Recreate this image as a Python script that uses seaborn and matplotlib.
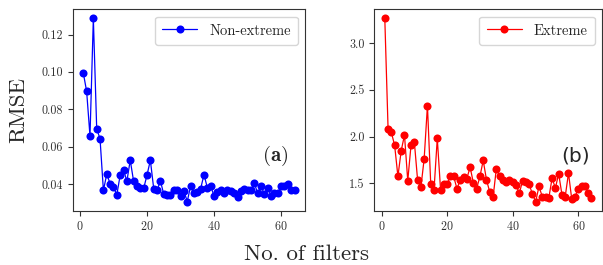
import numpy as np
import pandas as pd
import matplotlib
matplotlib.use("Agg")
import matplotlib.pyplot as plt
import seaborn as sns

filters = list(range(1, 65))
non_extreme = [0.0995, 0.0896, 0.0657, 0.1286, 0.0697, 0.0641, 0.0366, 0.0454, 0.0402, 0.0386,
               0.0343, 0.0448, 0.0476, 0.0416, 0.0528, 0.0416, 0.0390, 0.0380, 0.0377, 0.0448,
               0.0528, 0.0376, 0.0368, 0.0417, 0.0346, 0.0340, 0.0340, 0.0370, 0.0370, 0.0337,
               0.0365, 0.0307, 0.0390, 0.0355, 0.0356, 0.0376, 0.0451, 0.0380, 0.0390, 0.0335,
               0.0359, 0.0370, 0.0350, 0.0370, 0.0363, 0.0351, 0.0329, 0.0363, 0.0375, 0.0368,
               0.0366, 0.0406, 0.0351, 0.0390, 0.0345, 0.0380, 0.0338, 0.0350, 0.0350, 0.0392,
               0.0392, 0.0402, 0.0366, 0.0370]
extreme = [3.264, 2.082, 2.046, 1.907, 1.575, 1.850, 2.018, 1.529, 1.911, 1.946,
           1.536, 1.457, 1.764, 2.332, 1.496, 1.429, 1.982, 1.432, 1.496, 1.493,
           1.575, 1.575, 1.443, 1.539, 1.564, 1.550, 1.675, 1.507, 1.446, 1.575,
           1.746, 1.539, 1.407, 1.350, 1.657, 1.575, 1.536, 1.514, 1.532, 1.518,
           1.486, 1.393, 1.529, 1.514, 1.493, 1.386, 1.307, 1.468, 1.360, 1.360,
           1.346, 1.557, 1.450, 1.604, 1.382, 1.360, 1.611, 1.329, 1.360, 1.446,
           1.468, 1.475, 1.396, 1.343]

sns.set_style("ticks")
plt.rcParams["font.family"] = "serif"
plt.rcParams["font.serif"] = ["cmr10"]
plt.rcParams["mathtext.fontset"] = "cm"
plt.rcParams["axes.formatter.use_mathtext"] = True
plt.rcParams["axes.unicode_minus"] = False

df_a = pd.DataFrame({"filters": filters, "rmse": non_extreme})
df_b = pd.DataFrame({"filters": filters, "rmse": extreme})

fig = plt.figure(figsize=(6.03, 2.65), dpi=100)
ax1 = fig.add_axes([0.1206, 0.205, 0.3854, 0.760])
ax2 = fig.add_axes([0.621, 0.205, 0.377, 0.760])

sns.lineplot(data=df_a, x="filters", y="rmse", ax=ax1, color="#0000ff", marker="o",
             markersize=5.8, markeredgewidth=0, linewidth=0.9, label="Non-extreme")
sns.lineplot(data=df_b, x="filters", y="rmse", ax=ax2, color="#ff0000", marker="o",
             markersize=5.8, markeredgewidth=0, linewidth=0.9, label="Extreme")

for ax in (ax1, ax2):
    ax.set_xlabel("")
    ax.set_ylabel("")
    ax.set_xticks([0, 20, 40, 60])
    ax.tick_params(labelsize=8.7, length=3.5, width=0.8, colors="#333333", labelcolor="#333333")
    for s in ax.spines.values():
        s.set_visible(True)
        s.set_linewidth(0.8)
        s.set_color("#333333")
    ax.legend(loc="upper right", fontsize=10.5, frameon=True, handlelength=2.4,
              borderpad=0.5, labelspacing=0.3)

ax1.set_yticks([0.04, 0.06, 0.08, 0.10, 0.12])
ax1.set_yticklabels(["0.04", "0.06", "0.08", "0.10", "0.12"])
ax2.set_yticks([1.5, 2.0, 2.5, 3.0])
ax2.set_yticklabels(["1.5", "2.0", "2.5", "3.0"])

ax1.text(0.87, 0.27, r"$\mathbf{(a)}$", transform=ax1.transAxes, fontsize=15,
         ha="center", va="center")
ax2.text(0.885, 0.27, "(b)", transform=ax2.transAxes, fontsize=14.5,
         ha="center", va="center", family="DejaVu Sans")

fig.text(18 / 603, 0.585, "RMSE", rotation=90, ha="center", va="center", fontsize=16.5)
fig.text(307 / 603, 1 - 254 / 265, "No. of filters", ha="center", va="center", fontsize=16.5)

fig.savefig("out.png", dpi=100)
